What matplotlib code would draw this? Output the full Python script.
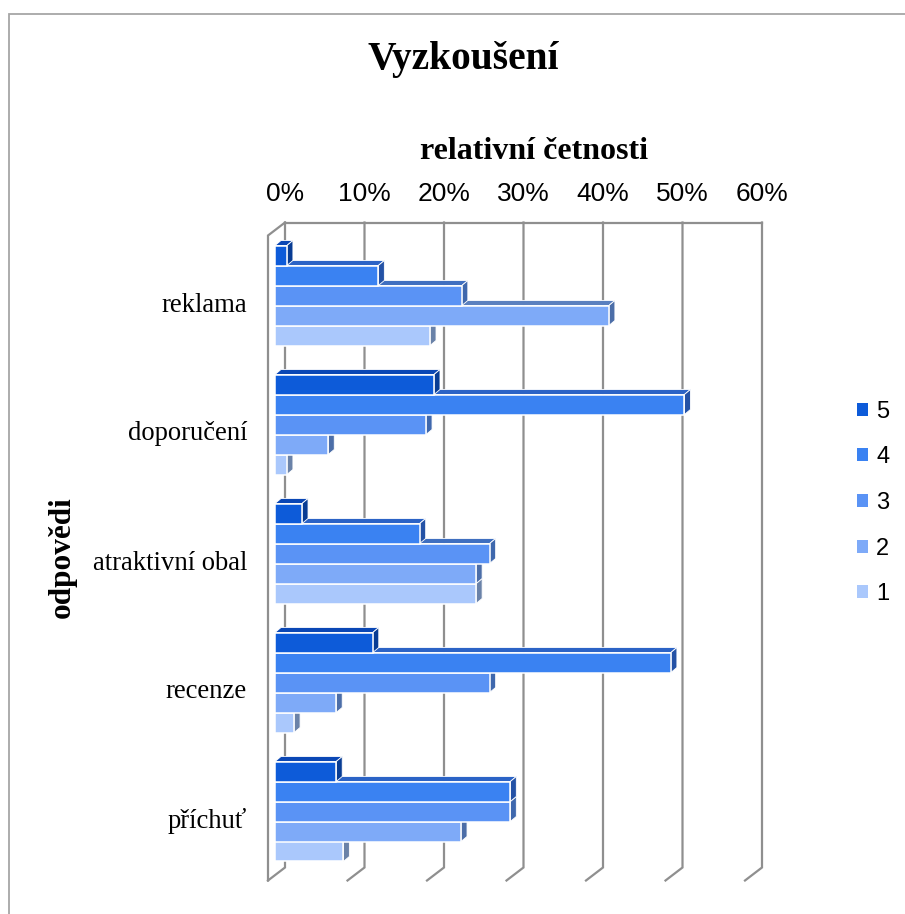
import matplotlib
matplotlib.use("Agg")
import matplotlib.pyplot as plt
from matplotlib.patches import Polygon, Rectangle, Patch

# ---------------- data ----------------
categories = ["reklama", "doporučení", "atraktivní obal", "recenze", "příchuť"]
series_names = ["5", "4", "3", "2", "1"]
s5 = [1.5, 20.0, 3.4, 12.3, 7.7]
s4 = [13.0, 51.5, 18.2, 49.8, 29.6]
s3 = [23.5, 19.0, 27.0, 27.0, 29.6]
s2 = [42.0, 6.7, 25.3, 7.7, 23.4]
s1 = [19.5, 1.5, 25.3, 2.4, 8.6]
series_values = [s5, s4, s3, s2, s1]
x_ticks = [0, 10, 20, 30, 40, 50, 60]
x_tick_labels = ["0%", "10%", "20%", "30%", "40%", "50%", "60%"]

title = "Vyzkoušení"
x_title = "relativní četnosti"
y_title = "odpovědi"

front_colors = ["#0d5bd9", "#3a82f2", "#5a93f5", "#7eaaf8", "#aac8fc"]
top_colors = ["#0a47b5", "#2b63c6", "#3f6fc0", "#5a80bf", "#7f98c4"]
side_colors = ["#083c94", "#2452a6", "#3f68ad", "#4c6ea8", "#6a82a8"]
grid_color = "#8f8f8f"

# ---------------- layout ----------------
W, H = 905, 914
fig = plt.figure(figsize=(W / 100, H / 100), dpi=100)
ax_l, ax_r, ax_t, ax_b = 275, 752, 231, 876
ax = fig.add_axes([ax_l / W, 1 - ax_b / H, (ax_r - ax_l) / W, (ax_b - ax_t) / H])
ax.set_xlim(0, 60)
ax.set_ylim(4.5, -0.5)
ax.axis("off")

sx = (ax_r - ax_l) / 60.0   # px per percent
sy = (ax_b - ax_t) / 5.0    # px per category unit

# depth offsets (data units); up in the image = smaller y
dxb, dyb = 10 / sx, -8.5 / sy    # back wall
dxf, dyf = -7 / sx, 4.5 / sy     # front edge
dxd, dyd = 6 / sx, -5 / sy       # bar depth

# border of chart area
fig.patches.append(Rectangle((9 / W, -0.1), 1.2, 1 - 14 / H + 0.1, transform=fig.transFigure,
                             fill=False, edgecolor="#a6a6a6", linewidth=1.3))

# ---------------- walls / gridlines ----------------
ytop, ybot = -0.5, 4.5
lw_grid = 1.6
for v in x_ticks:
    ax.plot([v + dxb, v + dxb, v + dxf], [ytop + dyb, ybot + dyb, ybot + dyf],
            color=grid_color, lw=lw_grid, clip_on=False, zorder=1, solid_joinstyle="miter")
ax.plot([x_ticks[0] + dxb, x_ticks[-1] + dxb], [ytop + dyb, ytop + dyb],
        color=grid_color, lw=lw_grid, clip_on=False, zorder=1)
ax.plot([x_ticks[0] + dxb, x_ticks[0] + dxf, x_ticks[0] + dxf],
        [ytop + dyb, ytop + dyf, ybot + dyf],
        color=grid_color, lw=lw_grid, clip_on=False, zorder=1, solid_joinstyle="miter")

# ---------------- bars ----------------
n = len(series_names)
bh = 20 / sy
for ci in range(len(categories)):
    for si in range(n - 1, -1, -1):  # draw lower bars first
        v = series_values[si][ci]
        yc = ci + (si - (n - 1) / 2) * bh
        yt, yb = yc - bh / 2, yc + bh / 2
        z = 10 + (n - si) * 3
        ax.barh(yc, v, height=bh, left=0, color=front_colors[si], edgecolor="white",
                linewidth=1.1, zorder=z + 2)
        top = Polygon([(0, yt), (v, yt), (v + dxd, yt + dyd), (dxd, yt + dyd)], closed=True,
                      facecolor=top_colors[si], edgecolor="white", linewidth=0.6, zorder=z,
                      clip_on=False)
        side = Polygon([(v, yt), (v, yb), (v + dxd, yb + dyd), (v + dxd, yt + dyd)], closed=True,
                       facecolor=side_colors[si], edgecolor="white", linewidth=0.6, zorder=z + 1,
                       clip_on=False)
        ax.add_patch(top)
        ax.add_patch(side)

# ---------------- texts ----------------
sans = ["Liberation Sans", "DejaVu Sans"]
serif = ["Liberation Serif", "DejaVu Serif"]

y_tick_lab = ytop - (ax_t - 194) / sy
for v, lab in zip(x_ticks, x_tick_labels):
    ax.text(v + dxb, y_tick_lab, lab, ha="center", va="center", fontsize=19,
            family=sans, clip_on=False)

for ci, cat in enumerate(categories):
    ax.text((247 - ax_l) / sx, ci + 9.5 / sy, cat, ha="right", va="center", fontsize=19.2,
            family=serif, clip_on=False)

fig.text(463 / W, 1 - 59 / H, title, ha="center", va="center", fontsize=28.4,
         fontweight="bold", family=serif)
fig.text(534 / W, 1 - 152 / H, x_title, ha="center", va="center", fontsize=23,
         fontweight="bold", family=serif)
fig.text(62 / W, 1 - 557 / H, y_title, ha="center", va="center", fontsize=22.5,
         fontweight="bold", family=serif, rotation=90)

# ---------------- legend ----------------
handles = [Patch(facecolor=c, edgecolor="none") for c in front_colors]
leg = fig.legend(handles, series_names, loc="center left",
                 bbox_to_anchor=(857 / W, 1 - 503 / H), frameon=False,
                 prop={"family": sans, "size": 17}, handlelength=0.47, handleheight=0.47,
                 handletextpad=0.35, labelspacing=1.0, borderpad=0, borderaxespad=0)

fig.savefig("out.png", dpi=100)
